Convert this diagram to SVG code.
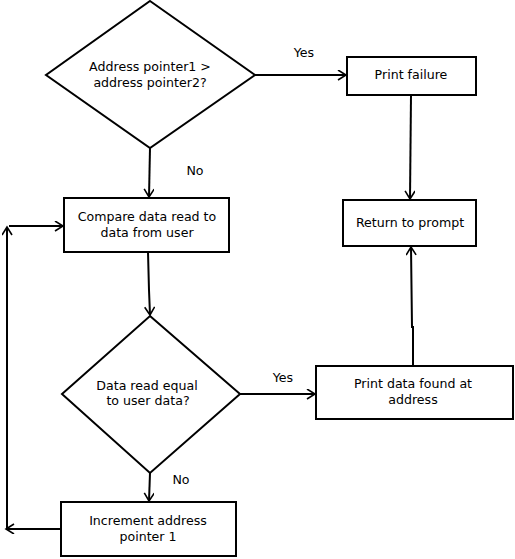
<svg xmlns="http://www.w3.org/2000/svg" width="515" height="559" viewBox="0 0 515 559">
  <style>
    .shape { fill: #ffffff; stroke: #000000; stroke-width: 2; }
    .label { font-family: "DejaVu Sans", Verdana, sans-serif; font-size: 12.6px; fill: #000000; text-anchor: middle; }
    .edge { fill: none; stroke: #000000; stroke-width: 2; marker-end: url(#arrow); }
  </style>
  <defs>
    <marker id="arrow" markerUnits="userSpaceOnUse" markerWidth="12" markerHeight="12" refX="9" refY="5" orient="auto">
      <path d="M1,0 L9,5 L1,10" fill="none" stroke="#000000" stroke-width="1.6"/>
    </marker>
  </defs>
  <rect width="515" height="559" fill="#ffffff"/>

  <g id="connectors">
    <line class="edge" x1="150" y1="148" x2="149" y2="197"/>
    <line class="edge" x1="255" y1="75" x2="346" y2="75"/>
    <line class="edge" x1="411" y1="95" x2="410" y2="199"/>
    <polyline class="edge" points="148,252 149,290 150,315"/>
    <line class="edge" x1="240" y1="394" x2="315" y2="394"/>
    <polyline class="edge" points="413,366 413,327 412,327 411,247"/>
    <line class="edge" x1="150" y1="473" x2="149" y2="501"/>
    <line class="edge" x1="61" y1="529" x2="6" y2="529"/>
    <line class="edge" x1="7" y1="529" x2="7" y2="227"/>
    <line class="edge" x1="9" y1="226" x2="63" y2="226"/>
    <text class="label" x="304" y="57">Yes</text>
    <text class="label" x="195" y="175">No</text>
    <text class="label" x="283" y="382">Yes</text>
    <text class="label" x="181" y="484">No</text>
  </g>

  <g id="check-pointers">
    <polygon class="shape" points="150,1 255,75 150,148 46,75"/>
    <text class="label" x="150" y="71">Address pointer1 &gt;</text>
    <text class="label" x="150" y="87">address pointer2?</text>
  </g>

  <g id="print-failure">
    <rect class="shape" x="347" y="57" width="129" height="38"/>
    <text class="label" x="411" y="79">Print failure</text>
  </g>

  <g id="return-to-prompt">
    <rect class="shape" x="343" y="200" width="133" height="46"/>
    <text class="label" x="410" y="227">Return to prompt</text>
  </g>

  <g id="compare-data">
    <rect class="shape" x="64" y="198" width="165" height="54"/>
    <text class="label" x="147" y="221">Compare data read to</text>
    <text class="label" x="147" y="237">data from user</text>
  </g>

  <g id="data-equal">
    <polygon class="shape" points="150,316 240,394 150,473 62,394"/>
    <text class="label" x="147" y="390">Data read equal</text>
    <text class="label" x="148" y="405">to user data?</text>
  </g>

  <g id="print-data-found">
    <rect class="shape" x="316" y="366" width="197" height="53"/>
    <text class="label" x="413" y="388">Print data found at</text>
    <text class="label" x="413" y="404">address</text>
  </g>

  <g id="increment-pointer">
    <rect class="shape" x="61" y="502" width="175" height="54"/>
    <text class="label" x="148" y="525">Increment address</text>
    <text class="label" x="148" y="541">pointer 1</text>
  </g>
</svg>
